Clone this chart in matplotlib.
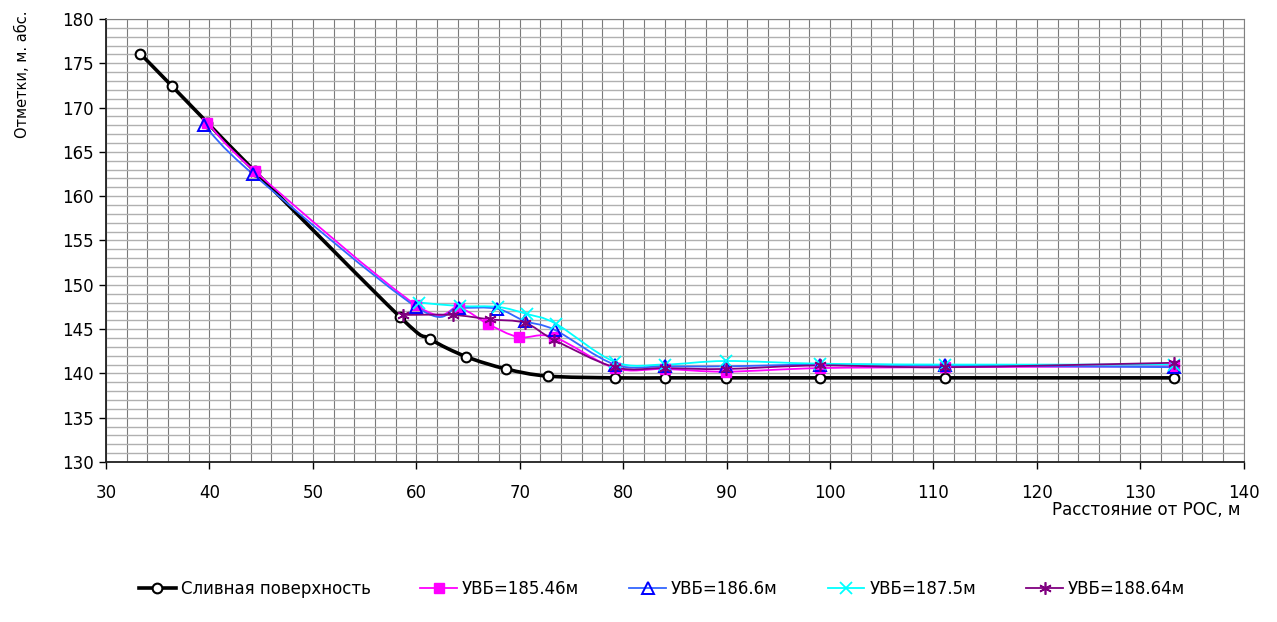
import numpy as np
import matplotlib.pyplot as plt
from matplotlib.path import Path
from matplotlib.patches import PathPatch
from matplotlib.lines import Line2D
from matplotlib.ticker import MultipleLocator

plt.rcParams['font.family'] = ['DejaVu Sans']

# Сливная поверхность
x_surf = [33.3, 36.4, 39.8, 44.4, 58.4, 61.3, 64.8, 68.7, 72.7, 79.2, 84.0, 89.9, 99.0, 111.1, 133.3]
y_surf = [176.1, 172.4, 168.3, 162.8, 146.4, 143.9, 141.9, 140.5, 139.7, 139.5, 139.5, 139.5, 139.5, 139.5, 139.5]

# УВБ=185.46м
x_1 = [39.8, 44.4, 60.0, 64.1, 66.9, 69.9, 73.3, 79.2, 84.0, 89.9, 99.0, 111.1, 133.3]
y_1 = [168.3, 162.8, 147.7, 147.4, 145.6, 144.1, 144.1, 140.6, 140.5, 140.2, 140.6, 140.7, 140.8]

# УВБ=186.6м
x_2 = [39.5, 44.2, 60.0, 64.1, 67.8, 70.5, 73.4, 79.2, 84.0, 89.9, 99.0, 111.1, 133.3]
y_2 = [168.0, 162.5, 147.5, 147.4, 147.3, 145.9, 144.9, 141.0, 140.8, 140.8, 141.0, 140.9, 140.7]

# УВБ=187.5м
x_3 = [60.3, 64.2, 67.9, 70.7, 73.5, 79.2, 84.0, 89.9, 99.0, 111.1, 133.3]
y_3 = [148.0, 147.6, 147.5, 146.7, 145.6, 141.3, 141.0, 141.4, 141.1, 141.0, 141.0]

# УВБ=188.64м
x_4 = [58.7, 63.5, 67.1, 70.5, 73.3, 79.2, 84.0, 89.9, 99.0, 111.1, 133.3]
y_4 = [146.6, 146.6, 146.1, 145.7, 143.8, 140.7, 140.6, 140.5, 140.9, 140.7, 141.2]

labels = ['Сливная поверхность', 'УВБ=185.46м', 'УВБ=186.6м', 'УВБ=187.5м', 'УВБ=188.64м']


def smooth_path(xs, ys):
    # excel-like smoothed line: catmull-rom segments as cubic beziers
    p = np.column_stack([xs, ys])
    n = len(p)
    verts = [p[0]]
    codes = [Path.MOVETO]
    for i in range(n - 1):
        p0 = p[i - 1] if i > 0 else p[i]
        p1 = p[i]
        p2 = p[i + 1]
        p3 = p[i + 2] if i + 2 < n else p[i + 1]
        c1 = p1 + (p2 - p0) / 6.0
        c2 = p2 - (p3 - p1) / 6.0
        verts += [c1, c2, p2]
        codes += [Path.CURVE4] * 3
    return Path(verts, codes)


fig = plt.figure(figsize=(12.77, 6.22), dpi=100)
ax = fig.add_axes([0.083, 0.2572, 0.891, 0.7123])

series = [
    (x_surf, y_surf, dict(lw=2.6, marker='o', mfc='white', mec='black', ms=7, mew=1.5, lcol='black')),
    (x_1, y_1, dict(lw=1.3, marker='s', mfc='#FF00FF', mec='#FF00FF', ms=6.5, mew=1, lcol='#FF00FF')),
    (x_2, y_2, dict(lw=1.3, marker='^', mfc='none', mec='#0000FF', ms=8, mew=1.4, lcol='#3366FF')),
    (x_3, y_3, dict(lw=1.3, marker='x', mfc='none', mec='#00FFFF', ms=8, mew=1.3, lcol='#00FFFF')),
    (x_4, y_4, dict(lw=1.3, marker=(6, 2, 0), mfc='none', mec='#800080', ms=9, mew=1.2, lcol='#800080')),
]

handles = []
for (xs, ys, st), lab in zip(series, labels):
    patch = PathPatch(smooth_path(xs, ys), fill=False, edgecolor=st['lcol'], lw=st['lw'], zorder=3)
    ax.add_patch(patch)
    ax.plot(xs, ys, linestyle='none', marker=st['marker'], mfc=st['mfc'], mec=st['mec'],
            ms=st['ms'], mew=st['mew'], zorder=4)
    handles.append(Line2D([], [], color=st['lcol'], lw=st['lw'], marker=st['marker'], mfc=st['mfc'],
                          mec=st['mec'], ms=st['ms'], mew=st['mew']))

ax.set_xlim(30, 140)
ax.set_ylim(130, 180)
ax.xaxis.set_major_locator(MultipleLocator(10))
ax.xaxis.set_minor_locator(MultipleLocator(2))
ax.yaxis.set_major_locator(MultipleLocator(5))
ax.yaxis.set_minor_locator(MultipleLocator(1))
ax.grid(True, axis='x', which='both', color='#7a7a7a', lw=0.8)
ax.grid(True, axis='y', which='both', color='#b0b0b0', lw=1.0)
ax.set_axisbelow(True)
ax.tick_params(which='major', direction='out', length=5, width=1, labelsize=12, pad=4)
ax.tick_params(axis='x', pad=11)
ax.tick_params(which='minor', length=0)
for s in ['top', 'right']:
    ax.spines[s].set_color('#808080')
for s in ['left', 'bottom']:
    ax.spines[s].set_color('#202020')
    ax.spines[s].set_linewidth(1.3)

fig.text(22 / 1277, 1 - 10 / 622, 'Отметки, м. абс.', rotation=90, ha='center', va='top', fontsize=10.5)
fig.text(1240 / 1277, 1 - 510 / 622, 'Расстояние от РОС, м', ha='right', va='center', fontsize=12)

fig.legend(handles, labels, loc='center', bbox_to_anchor=(662 / 1277, 1 - 589 / 622), ncol=5, frameon=False,
           fontsize=12, handlelength=2.2, handletextpad=0.3, columnspacing=3.0)

fig.savefig('out.png', dpi=100)
